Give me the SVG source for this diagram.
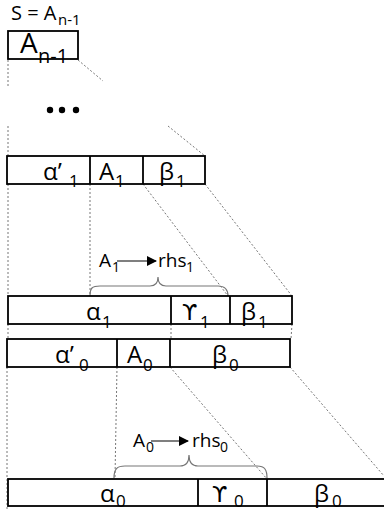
<svg xmlns="http://www.w3.org/2000/svg" width="384" height="512" viewBox="0 0 384 512">
<style>
.box{fill:#fff;stroke:#000;stroke-width:1.8}
.div{stroke:#000;stroke-width:1.8}
.dot{stroke:#777;stroke-width:1;stroke-dasharray:2,2;fill:none}
.brace{stroke:#777;stroke-width:1.2;fill:none}
text{font-family:"Open Sans","DejaVu Sans",sans-serif;fill:#000}
.big{font-size:24px}
.ups{font-family:"DejaVu Sans",sans-serif;font-size:22px}
.sub{font-size:17px}
.lab{font-size:19px}
.lsub{font-size:14px}
</style>
<defs>
<marker id="ah" markerWidth="10" markerHeight="10" refX="9" refY="5" orient="auto" markerUnits="userSpaceOnUse">
<path d="M0,0 L10,5 L0,10 z" fill="#000"/>
</marker>
</defs>
<g id="connectors">
<line class="dot" x1="8" y1="60" x2="8" y2="86"/>
<line class="dot" x1="78" y1="60" x2="103" y2="81"/>
<line class="dot" x1="8" y1="126" x2="8" y2="156"/>
<line class="dot" x1="168" y1="126" x2="205" y2="156"/>
<line class="dot" x1="8" y1="184" x2="8" y2="296"/>
<line class="dot" x1="90" y1="184" x2="90" y2="296"/>
<line class="dot" x1="143" y1="184" x2="228" y2="296"/>
<line class="dot" x1="205" y1="184" x2="292" y2="296"/>
<line class="dot" x1="8" y1="324" x2="8" y2="339"/>
<line class="dot" x1="171" y1="324" x2="171" y2="339"/>
<line class="dot" x1="292" y1="324" x2="291" y2="339"/>
<line class="dot" x1="7" y1="367" x2="7" y2="510"/>
<line class="dot" x1="117" y1="367" x2="115" y2="478"/>
<line class="dot" x1="170" y1="367" x2="267" y2="479"/>
<line class="dot" x1="290" y1="367" x2="384" y2="476"/>
<path class="brace" d="M90,296 C90,288 92,286 100,286 L150,286 C156,286 158,283 158,277 C158,283 160,286 166,286 L218,286 C226,286 228,290 228,296"/>
<path class="brace" d="M114,478 C114,469 117,466 125,466 L180,466 C186,466 189,462 189,455 C189,462 192,466 198,466 L257,466 C265,466 267,470 267,478"/>
<line x1="117" y1="261" x2="156" y2="261" stroke="#000" stroke-width="1.2" marker-end="url(#ah)"/>
<line x1="151" y1="441" x2="188" y2="441" stroke="#000" stroke-width="1.2" marker-end="url(#ah)"/>
</g>
<g id="title">
<text x="11" y="20" style="font-size:20px">S = A</text>
<text x="58" y="25" style="font-size:15px">n-1</text>
</g>
<g id="node-top">
<rect class="box" x="8" y="31" width="70" height="28"/>
<text x="20" y="53" style="font-size:28px">A</text>
<text x="38" y="63" style="font-size:20px">n-1</text>
</g>
<g id="ellipsis">
<circle cx="50" cy="110" r="3.2"/>
<circle cx="62" cy="110" r="3.2"/>
<circle cx="76" cy="110" r="3.2"/>
</g>
<g id="row1">
<rect class="box" x="7" y="156" width="198" height="28"/>
<line class="div" x1="90" y1="156" x2="90" y2="184"/>
<line class="div" x1="143" y1="156" x2="143" y2="184"/>
<text class="big" x="43" y="180">α’</text><text class="sub" x="69" y="187">1</text>
<text class="big" x="99" y="180">A</text><text class="sub" x="115" y="187">1</text>
<text class="big" x="159" y="180">β</text><text class="sub" x="176" y="187">1</text>
</g>
<g id="label1">
<text class="lab" x="99" y="267">A</text><text class="lsub" x="112" y="272">1</text>
<text class="lab" x="158" y="267">rhs</text><text class="lsub" x="186" y="272">1</text>
</g>
<g id="row2">
<rect class="box" x="8" y="296" width="284" height="28"/>
<line class="div" x1="171" y1="296" x2="171" y2="324"/>
<line class="div" x1="230" y1="296" x2="230" y2="324"/>
<text class="big" x="86" y="320">α</text><text class="sub" x="102" y="328">1</text>
<text class="ups" x="182" y="320">ϒ</text><text class="sub" x="200" y="328">1</text>
<text class="big" x="241" y="320">β</text><text class="sub" x="258" y="328">1</text>
</g>
<g id="row3">
<rect class="box" x="7" y="339" width="283" height="28"/>
<line class="div" x1="117" y1="339" x2="117" y2="367"/>
<line class="div" x1="170" y1="339" x2="170" y2="367"/>
<text class="big" x="55" y="363">α’</text><text class="sub" x="79" y="371">0</text>
<text class="big" x="127" y="363">A</text><text class="sub" x="143" y="371">0</text>
<text class="big" x="212" y="363">β</text><text class="sub" x="229" y="371">0</text>
</g>
<g id="label0">
<text class="lab" x="133" y="447">A</text><text class="lsub" x="146" y="452">0</text>
<text class="lab" x="192" y="447">rhs</text><text class="lsub" x="220" y="452">0</text>
</g>
<g id="row4">
<rect class="box" x="8" y="479" width="380" height="27"/>
<line class="div" x1="198" y1="479" x2="198" y2="506"/>
<line class="div" x1="267" y1="479" x2="267" y2="506"/>
<text class="big" x="100" y="502">α</text><text class="sub" x="116" y="507">0</text>
<text class="ups" x="212" y="502">ϒ</text><text class="sub" x="234" y="507">0</text>
<text class="big" x="314" y="502">β</text><text class="sub" x="332" y="507">0</text>
</g>
</svg>
